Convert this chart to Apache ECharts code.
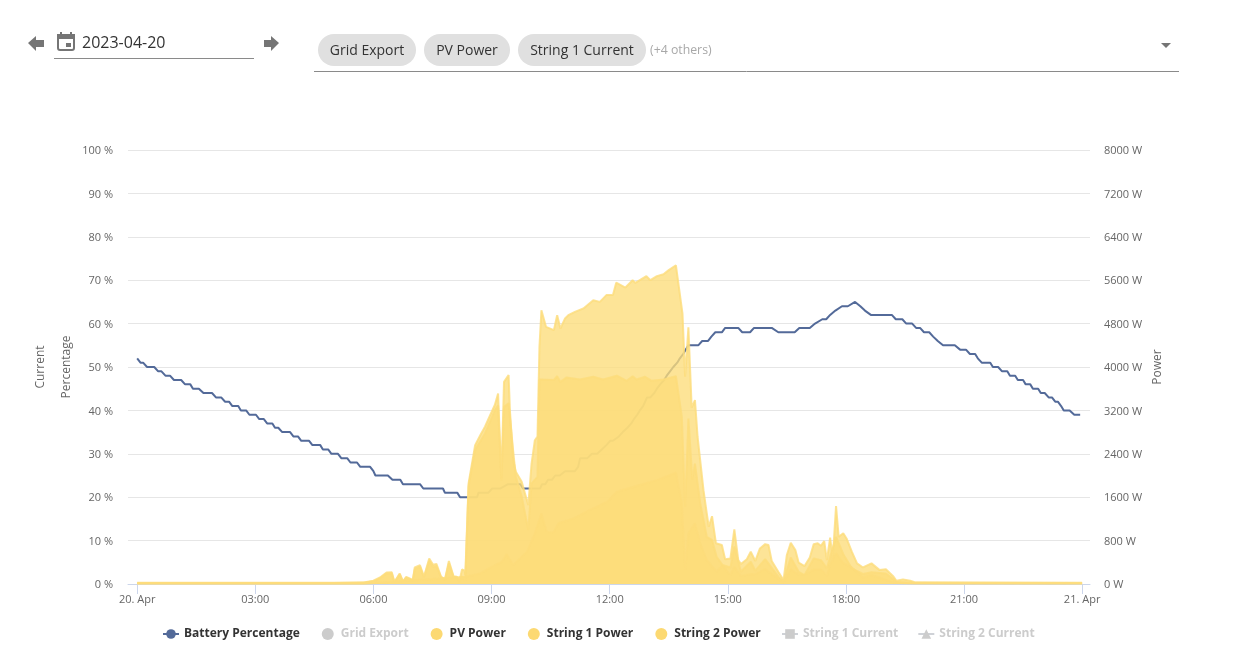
<!DOCTYPE html>
<html><head><meta charset="utf-8">
<script src="https://cdn.jsdelivr.net/npm/echarts@6/dist/echarts.min.js"></script>
<style>html,body{margin:0;padding:0;background:#fff}#c{width:1238px;height:663px}</style>
</head><body><div id="c"></div>
<script>
const FONT = '"Open Sans", sans-serif';
const tickMinutes = [0,180,360,540,720,900,1080,1260,1440];
const tickLabels = ['20. Apr','03:00','06:00','09:00','12:00','15:00','18:00','21:00','21. Apr'];
const legendNames = ['Battery Percentage','Grid Export','PV Power','String 1 Power','String 2 Power','String 1 Current','String 2 Current'];

const batteryPercentage = [[0,52],[5,51],[9,51],[15,50],[26,50],[32,49],[37,49],[43,48],[50,48],[56,47],[67,47],[73,46],[81,46],[85,45],[94,45],[101,44],[114,44],[120,43],[128,43],[134,42],[140,42],[145,41],[154,41],[158,40],[166,40],[171,39],[181,39],[186,38],[193,38],[198,37],[206,37],[210,36],[215,36],[221,35],[233,35],[238,34],[245,34],[250,33],[262,33],[267,32],[279,32],[283,31],[291,31],[296,30],[306,30],[311,29],[320,29],[325,28],[335,28],[340,27],[355,27],[360,26],[363,25],[382,25],[389,24],[401,24],[405,23],[431,23],[436,22],[466,22],[469,21],[488,21],[492,20],[518,20],[520,21],[535,21],[541,22],[553,22],[565,23],[584,23],[588,22],[614,22],[617,23],[622,23],[626,24],[632,24],[637,25],[644,25],[652,26],[667,26],[672,27],[675,29],[686,29],[693,30],[701,30],[708,31],[715,32],[721,33],[725,33],[734,34],[740,35],[747,36],[753,37],[757,38],[762,39],[766,40],[771,41],[774,42],[777,43],[782,43],[788,44],[792,45],[797,46],[803,47],[807,48],[812,49],[817,50],[823,51],[827,52],[832,53],[836,54],[840,55],[855,55],[861,56],[870,56],[875,57],[881,58],[891,58],[896,59],[916,59],[922,58],[934,58],[940,59],[967,59],[977,58],[1002,58],[1009,59],[1025,59],[1033,60],[1044,61],[1050,61],[1056,62],[1064,63],[1074,64],[1083,64],[1094,65],[1097,65],[1102,64],[1109,63],[1118,62],[1150,62],[1156,61],[1166,61],[1172,60],[1181,60],[1187,59],[1193,59],[1199,58],[1207,58],[1213,57],[1220,56],[1228,55],[1246,55],[1254,54],[1263,54],[1269,53],[1277,53],[1281,52],[1287,51],[1300,51],[1304,50],[1312,50],[1318,49],[1326,49],[1330,48],[1338,48],[1342,47],[1350,47],[1354,46],[1361,46],[1365,45],[1373,45],[1377,44],[1383,44],[1389,43],[1394,43],[1399,42],[1403,42],[1408,41],[1412,40],[1421,40],[1428,39],[1437,39]];

const pvPower = [[0,25],[300,25],[345,30],[360,60],[370,120],[380,210],[388,215],[392,35],[400,195],[405,50],[410,130],[420,75],[423,305],[431,345],[437,135],[445,470],[451,355],[456,370],[463,135],[469,85],[475,425],[482,145],[487,135],[491,45],[495,270],[499,245],[500,165],[505,1855],[515,2560],[523,2745],[530,2900],[538,3115],[545,3300],[550,3510],[555,1950],[559,3725],[566,3850],[568,3200],[573,2285],[577,2070],[586,1885],[591,1670],[596,1455],[601,2220],[606,2650],[610,2715],[613,4370],[616,5045],[623,4740],[635,4680],[640,4955],[645,4710],[652,4895],[657,4955],[667,5015],[680,5080],[695,5230],[705,5200],[715,5325],[725,5325],[730,5555],[744,5465],[755,5600],[759,5550],[776,5675],[782,5600],[792,5675],[802,5710],[810,5785],[821,5875],[831,4985],[835,3820],[837,3820],[840,4730],[845,3250],[850,3390],[854,2715],[863,1730],[868,1300],[871,1055],[876,1250],[882,750],[891,720],[896,455],[904,470],[910,1005],[916,440],[920,370],[929,455],[935,595],[942,425],[949,655],[957,735],[962,720],[967,425],[977,225],[985,75],[990,535],[996,760],[1003,625],[1008,395],[1011,410],[1017,330],[1025,490],[1031,735],[1037,750],[1042,705],[1047,790],[1051,440],[1056,855],[1060,470],[1065,1435],[1069,870],[1076,935],[1081,840],[1089,595],[1097,380],[1106,305],[1119,380],[1131,260],[1141,270],[1152,145],[1157,60],[1167,85],[1178,60],[1186,30],[1440,25]];

const string1Power = [[0,20],[300,20],[345,25],[360,50],[370,105],[380,190],[388,195],[392,30],[400,175],[405,45],[410,115],[420,65],[423,275],[431,310],[437,120],[445,420],[451,315],[456,330],[463,120],[469,75],[475,380],[482,130],[487,120],[491,40],[495,140],[500,60],[505,1800],[515,2470],[530,2775],[545,3200],[550,3290],[555,1900],[559,3265],[566,3330],[573,2450],[577,1975],[586,1610],[596,995],[601,1855],[610,1975],[613,3770],[635,3760],[640,3830],[645,3725],[654,3805],[675,3770],[695,3820],[710,3770],[731,3840],[746,3745],[755,3830],[761,3770],[774,3820],[784,3745],[802,3770],[821,3830],[830,3080],[835,1425],[840,3050],[846,1930],[850,2220],[858,1485],[868,870],[876,810],[883,500],[892,350],[904,305],[910,690],[920,225],[935,410],[942,245],[957,460],[977,135],[985,50],[996,490],[1008,225],[1017,165],[1031,470],[1042,440],[1051,290],[1056,500],[1065,870],[1076,550],[1089,290],[1106,185],[1119,215],[1141,195],[1157,40],[1186,20],[1440,15]];

const string2Power = [[0,5],[345,5],[500,135],[523,195],[538,300],[556,410],[563,550],[573,350],[594,595],[606,930],[616,1300],[624,965],[634,945],[642,1120],[665,1210],[690,1365],[716,1515],[731,1700],[766,1825],[792,1915],[821,2050],[830,1490],[835,260],[840,935],[850,1120],[858,750],[868,440],[883,230],[892,340],[904,165],[910,315],[920,145],[935,185],[942,180],[957,275],[977,90],[985,25],[996,270],[1008,170],[1017,165],[1031,265],[1042,265],[1051,150],[1056,355],[1065,565],[1076,385],[1089,305],[1106,120],[1119,165],[1141,75],[1157,20],[1186,10],[1440,10]];

const gridExport = [];
const string1Current = [];
const string2Current = [];

const YELLOW = '#fddc7a';
const BLUE = '#536a99';
function area(name, data){
  return {name, type:'line', yAxisIndex:1, z:3, data, symbol:'circle', showSymbol:false, smooth:false,
    lineStyle:{width:2,color:'rgba(253,220,122,0.8)'}, itemStyle:{color:'#fcd972'},
    areaStyle:{color:YELLOW, opacity:0.78}, emphasis:{disabled:true}};
}
const chart = echarts.init(document.getElementById('c'), null, {renderer:'canvas'});
const selected = {};
legendNames.forEach(n => selected[n] = !['Grid Export','String 1 Current','String 2 Current'].includes(n));
const hdrIcon = '#757575';
const legendText = {fontSize:12,fontWeight:'bold',color:'#333',fontFamily:FONT};
const yRich = {a:{color:'#666',fontSize:11,fontFamily:FONT,padding:[2,0,0,0]}};
chart.setOption({
  animation:false, backgroundColor:'#fff',
  textStyle:{fontFamily:FONT},
  grid:{left:128,right:148,top:150,bottom:79,containLabel:false},
  legend:[
   {left:157,top:623,itemWidth:16,itemHeight:12,itemGap:22,selected,inactiveColor:'#cccccc',textStyle:legendText,
    data:[{name:legendNames[0]},{name:legendNames[1],icon:'circle'},{name:legendNames[2],icon:'circle'},{name:legendNames[3],icon:'circle'},{name:legendNames[4],icon:'circle'}]},
   {left:776,top:623,itemWidth:16,itemHeight:12,itemGap:19,selected,inactiveColor:'#cccccc',textStyle:legendText,
    data:[{name:legendNames[5]},{name:legendNames[6]}]}
  ],
  xAxis:{type:'value',min:-14,max:1452,
    splitLine:{show:false},
    axisLine:{lineStyle:{color:'#ccd6eb',width:1},onZero:false},
    axisTick:{customValues:tickMinutes,length:10,lineStyle:{color:'#ccd6eb'}},
    axisLabel:{customValues:tickMinutes,color:'#666',fontSize:11,margin:10,fontFamily:FONT,hideOverlap:false,
      formatter:v=>tickLabels[tickMinutes.indexOf(v)]}},
  yAxis:[
    {type:'value',min:0,max:100,interval:10,position:'left',name:'Percentage',nameLocation:'middle',nameGap:55,nameMoveOverlap:false,
     nameTextStyle:{color:'#666',fontSize:12,fontFamily:FONT},
     axisLine:{show:false},axisTick:{show:false},
     axisLabel:{margin:15,rich:yRich,formatter:v=>'{a|'+v+' %}'},
     splitLine:{lineStyle:{color:'#e6e6e6',width:1}}},
    {type:'value',min:0,max:8000,interval:800,position:'right',name:'Power',nameLocation:'middle',nameGap:62,nameMoveOverlap:false,
     nameTextStyle:{color:'#666',fontSize:12,fontFamily:FONT},
     axisLine:{show:false},axisTick:{show:false},
     axisLabel:{margin:14,rich:yRich,formatter:v=>'{a|'+v+' W}'},
     splitLine:{show:false}},
    {type:'value',min:0,max:100,interval:10,position:'left',name:'Current',nameLocation:'middle',nameGap:81,
     nameTextStyle:{color:'#666',fontSize:12,fontFamily:FONT},
     axisLine:{show:false},axisTick:{show:false},axisLabel:{show:false},splitLine:{show:false}}
  ],
  series:[
    {name:legendNames[0],type:'line',yAxisIndex:0,z:2,data:batteryPercentage,symbol:'circle',symbolSize:7,showSymbol:false,
     lineStyle:{width:2,color:BLUE},itemStyle:{color:BLUE},emphasis:{disabled:true}},
    {name:legendNames[1],type:'line',yAxisIndex:1,data:gridExport,symbol:'circle',showSymbol:false,itemStyle:{color:'#7cb5ec'}},
    area(legendNames[2],pvPower),
    area(legendNames[3],string1Power),
    area(legendNames[4],string2Power),
    {name:legendNames[5],type:'line',yAxisIndex:2,data:string1Current,symbol:'rect',showSymbol:false,itemStyle:{color:'#90ed7d'}},
    {name:legendNames[6],type:'line',yAxisIndex:2,data:string2Current,symbol:'triangle',showSymbol:false,itemStyle:{color:'#f7a35c'}}
  ],
  graphic:[
    {type:'polygon',shape:{points:[[28,43],[36,36],[36,40],[44,40],[44,47],[36,47],[36,51]]},style:{fill:hdrIcon}},
    {type:'polygon',shape:{points:[[279,43],[271,36],[271,40],[264,40],[264,47],[271,47],[271,51]]},style:{fill:hdrIcon}},
    {type:'rect',shape:{x:58,y:35,width:16,height:15,r:2},style:{fill:'#fff',stroke:hdrIcon,lineWidth:2}},
    {type:'rect',shape:{x:57,y:34,width:18,height:5},style:{fill:hdrIcon}},
    {type:'rect',shape:{x:60,y:32,width:2,height:3},style:{fill:hdrIcon}},
    {type:'rect',shape:{x:70,y:32,width:2,height:3},style:{fill:hdrIcon}},
    {type:'rect',shape:{x:66,y:43,width:5,height:4},style:{fill:hdrIcon}},
    {type:'text',style:{x:82,y:43,text:'2023-04-20',fill:'#333',font:'16px '+FONT,textVerticalAlign:'middle'}},
    {type:'line',shape:{x1:54,y1:58.5,x2:254,y2:58.5},style:{stroke:'#8a8a8a',lineWidth:1}},
    {type:'rect',shape:{x:318,y:34,width:98,height:32,r:16},style:{fill:'#e0e0e0'}},
    {type:'text',style:{x:367,y:51,text:'Grid Export',fill:'#333',font:'14px '+FONT,textAlign:'center',textVerticalAlign:'middle'}},
    {type:'rect',shape:{x:424,y:34,width:86,height:32,r:16},style:{fill:'#e0e0e0'}},
    {type:'text',style:{x:467,y:51,text:'PV Power',fill:'#333',font:'14px '+FONT,textAlign:'center',textVerticalAlign:'middle'}},
    {type:'rect',shape:{x:518,y:34,width:128,height:32,r:16},style:{fill:'#e0e0e0'}},
    {type:'text',style:{x:582,y:51,text:'String 1 Current',fill:'#333',font:'14px '+FONT,textAlign:'center',textVerticalAlign:'middle'}},
    {type:'text',style:{x:650,y:50,text:'(+4 others)',fill:'#a8a8a8',font:'12.3px '+FONT,textVerticalAlign:'middle'}},
    {type:'line',shape:{x1:314,y1:71.5,x2:1179,y2:71.5},style:{stroke:'#8a8a8a',lineWidth:1}},
    {type:'polygon',shape:{points:[[1161,43],[1171,43],[1166,48]]},style:{fill:hdrIcon}}
  ]
});
</script></body></html>
